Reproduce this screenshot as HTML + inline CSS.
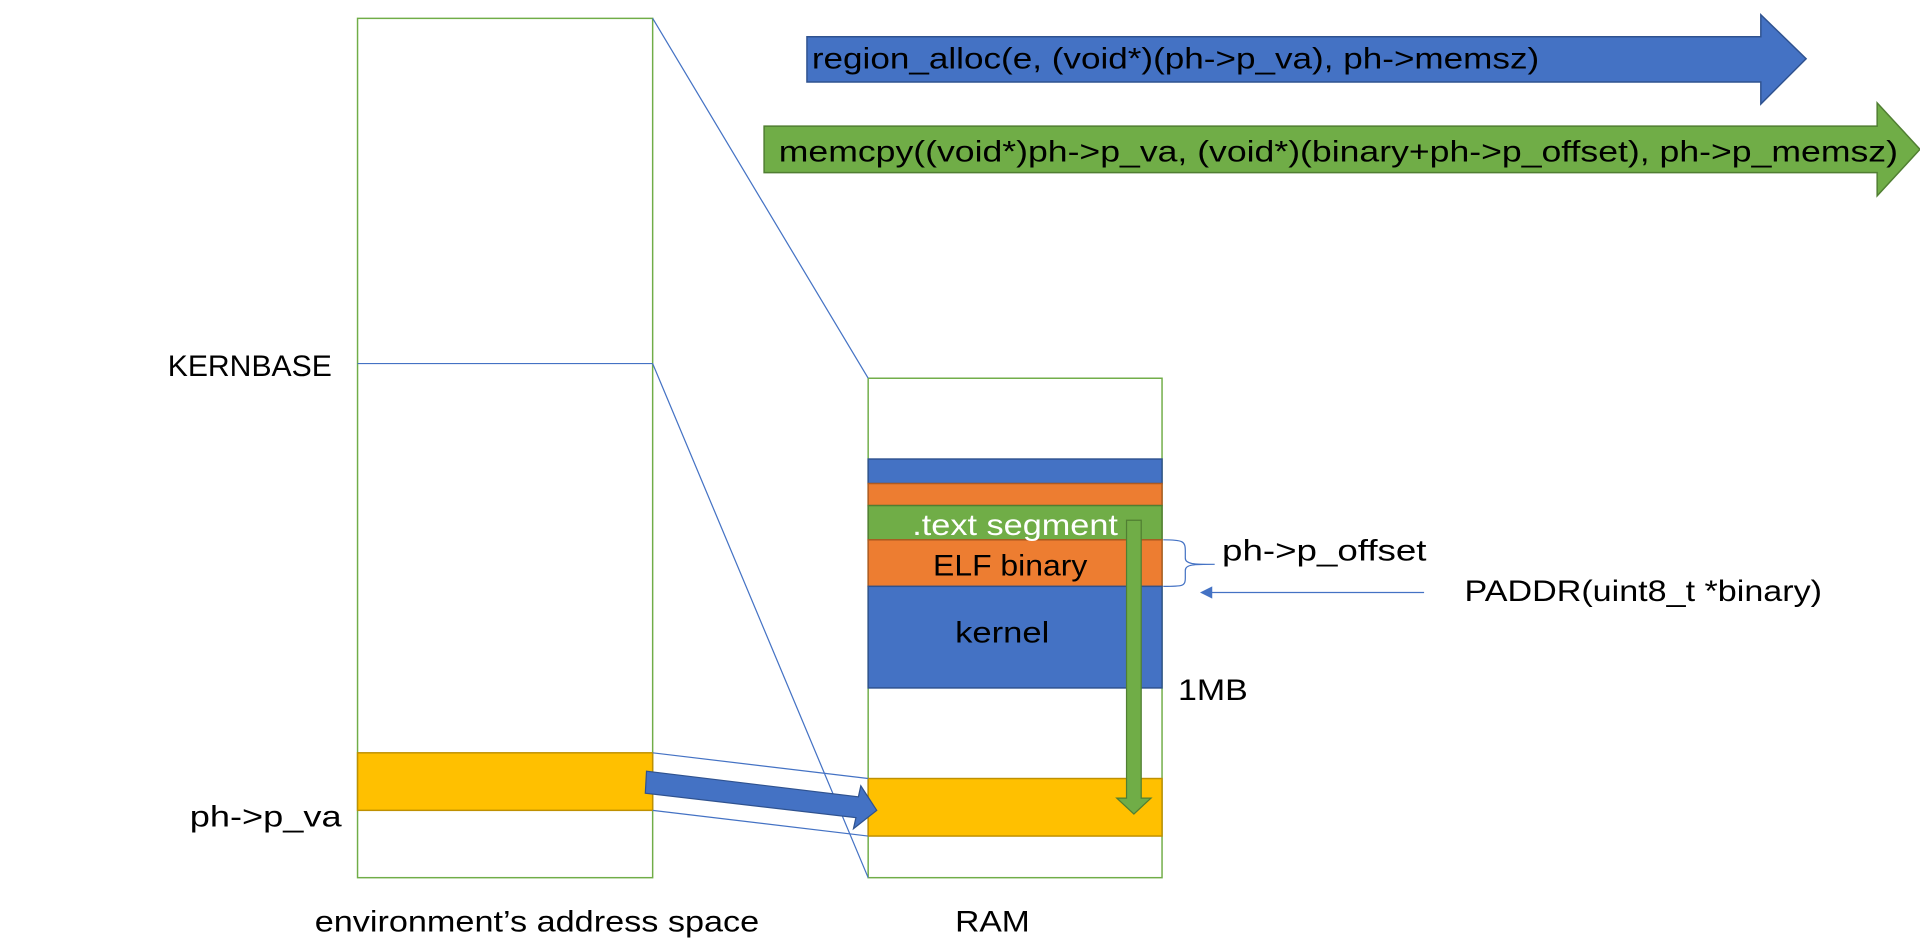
<!DOCTYPE html>
<html><head><meta charset="utf-8"><style>html,body{margin:0;padding:0;background:#fff;overflow:hidden}svg{display:block}text{font-family:"Liberation Sans",sans-serif;font-size:24px;fill:#000}</style></head>
<body>
<svg width="1920" height="945" viewBox="0 0 1568 772" preserveAspectRatio="none" xmlns="http://www.w3.org/2000/svg">
<!-- top arrows -->
<polygon points="659,30 1438,30 1438,12 1475,48 1438,85 1438,67 659,67" fill="#4472c4" stroke="#2f528f" stroke-width="1.2"/>
<text x="663" y="56" textLength="594" lengthAdjust="spacingAndGlyphs">region_alloc(e, (void*)(ph-&gt;p_va), ph-&gt;memsz)</text>
<polygon points="624,103 1533,103 1533,84 1568,122 1533,160 1533,141 624,141" fill="#70ad47" stroke="#507e32" stroke-width="1.2"/>
<text x="636" y="132" textLength="914" lengthAdjust="spacingAndGlyphs">memcpy((void*)ph-&gt;p_va, (void*)(binary+ph-&gt;p_offset), ph-&gt;p_memsz)</text>
<!-- left box -->
<rect x="292" y="15" width="241" height="702" fill="#fff" stroke="#70ad47" stroke-width="1.2"/>
<line x1="292" y1="297" x2="533" y2="297" stroke="#4472c4" stroke-width="1"/>
<rect x="292" y="615" width="241" height="47" fill="#ffc000" stroke="#bf9000" stroke-width="1.2"/>
<text x="137" y="307" textLength="134" lengthAdjust="spacingAndGlyphs">KERNBASE</text>
<text x="155" y="675" textLength="124" lengthAdjust="spacingAndGlyphs">ph-&gt;p_va</text>
<text x="257" y="761" textLength="363" lengthAdjust="spacingAndGlyphs">environment’s address space</text>
<!-- RAM -->
<rect x="709" y="309" width="240" height="408" fill="#fff" stroke="#70ad47" stroke-width="1.2"/>
<rect x="709" y="375" width="240" height="20" fill="#4472c4" stroke="#2f528f" stroke-width="1.2"/>
<rect x="709" y="395" width="240" height="18" fill="#ed7d31" stroke="#ae5a21" stroke-width="1.2"/>
<rect x="709" y="413" width="240" height="28" fill="#70ad47" stroke="#507e32" stroke-width="1.2"/>
<rect x="709" y="441" width="240" height="38" fill="#ed7d31" stroke="#ae5a21" stroke-width="1.2"/>
<rect x="709" y="479" width="240" height="83" fill="#4472c4" stroke="#2f528f" stroke-width="1.2"/>
<rect x="709" y="636" width="240" height="47" fill="#ffc000" stroke="#bf9000" stroke-width="1.2"/>
<text x="745" y="437" fill="#fff" style="fill:#fff" textLength="168" lengthAdjust="spacingAndGlyphs">.text segment</text>
<text x="762" y="470" textLength="126" lengthAdjust="spacingAndGlyphs">ELF binary</text>
<text x="780" y="525" textLength="77" lengthAdjust="spacingAndGlyphs">kernel</text>
<text x="780" y="761" textLength="61" lengthAdjust="spacingAndGlyphs">RAM</text>
<!-- connector lines -->
<g stroke="#4472c4" stroke-width="1" fill="none">
<line x1="533" y1="15" x2="709" y2="309"/>
<line x1="533" y1="297" x2="709" y2="717"/>
<line x1="533" y1="615" x2="709" y2="636"/>
<line x1="533" y1="662" x2="709" y2="683"/>
<path d="M950,441 C966,441 968,442 968,450 L968,456 C968,461 975,461 992,461 C975,461 968,461 968,466 L968,472 C968,479 966,479 950,479"/>
<line x1="1163" y1="484" x2="988" y2="484"/>
</g>
<polygon points="980,484 990,479 990,489" fill="#4472c4"/>
<!-- blue diagonal arrow -->
<polygon points="528,630 701,651 703,642 716,662 697,677 699,668 527,648" fill="#4472c4" stroke="#2f528f" stroke-width="1"/>
<!-- green vertical arrow -->
<polygon points="920,425 932,425 932,652 940,652 926,665 912,652 920,652" fill="#70ad47" stroke="#507e32" stroke-width="1"/>
<text x="998" y="458" textLength="167" lengthAdjust="spacingAndGlyphs">ph-&gt;p_offset</text>
<text x="1196" y="491" textLength="292" lengthAdjust="spacingAndGlyphs">PADDR(uint8_t *binary)</text>
<text x="962" y="572" textLength="57" lengthAdjust="spacingAndGlyphs">1MB</text>
</svg>
</body></html>
